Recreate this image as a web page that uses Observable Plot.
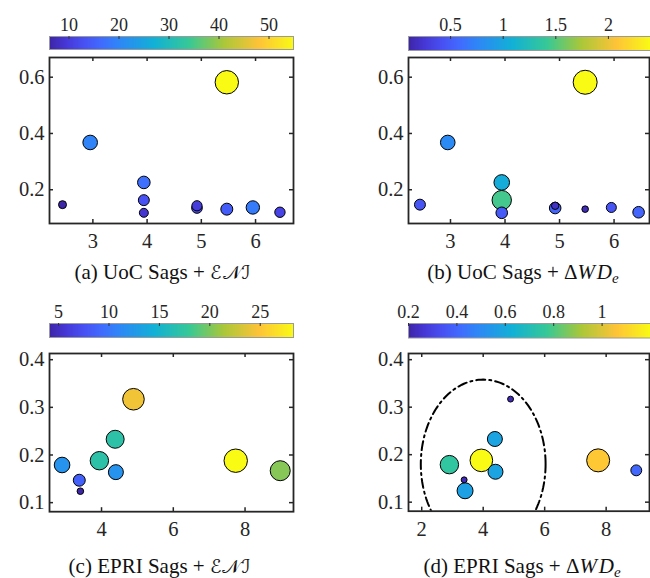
<!DOCTYPE html>
<html><head><meta charset="utf-8">
<script src="https://cdn.jsdelivr.net/npm/d3@7"></script>
<script src="https://cdn.jsdelivr.net/npm/@observablehq/plot@0.6"></script>
<style>
body{margin:0;background:#fff;}
#fig{position:relative;width:650px;height:578px;overflow:hidden;font-family:"Liberation Serif","Times New Roman",serif;color:#262626;background:#fff;}
#fig svg{position:absolute;}
.cap{position:absolute;font-size:21px;line-height:1;white-space:nowrap;transform:translate(-50%,-50%);color:#111;}
.cap i{font-style:italic;}
.cap sub{font-size:15px;vertical-align:-4px;line-height:0;}
.cal{font-family:"DejaVu Serif","DejaVu Sans",serif;font-size:19px;letter-spacing:1px;}
</style></head><body><div id="fig"></div>
<script>
// ---------- data ----------
const uocX = [2.44, 2.95, 3.94, 3.94, 3.94, 4.92, 4.92, 5.47, 5.95, 6.45, 5.47];
const uocY = [0.147, 0.368, 0.226, 0.163, 0.118, 0.135, 0.143, 0.131, 0.137, 0.120, 0.582];
const uocEniColor = [6.1, 19.5, 17, 13, 9, 12, 10, 14.5, 18.5, 11, 54.9];
const uocEniSize  = [6.4, 21.4, 15.9, 12.1, 8.1, 11.3, 10.5, 14.4, 18, 10.8, 54.9];
const uocWdColor  = [0.45, 0.78, 1.05, 1.45, 0.48, 0.55, 0.2, 0.15, 0.45, 0.55, 2.4];
const uocWdSize   = [0.50, 0.89, 1.01, 1.57, 0.56, 0.56, 0.23, 0.18, 0.42, 0.56, 2.4];

const epriX = [2.90, 3.38, 3.41, 3.94, 4.38, 4.40, 4.89, 7.74, 8.98];
const epriY = [0.179, 0.147, 0.124, 0.188, 0.233, 0.164, 0.317, 0.188, 0.167];
const epriEniColor = [12, 8.5, 4.1, 17, 17, 12, 24.3, 28.3, 20.3];
const epriEniSize  = [12.6, 7.4, 2.25, 17.5, 16.7, 11.6, 24.1, 28.3, 20.7];
const epriWdColor  = [0.75, 0.22, 0.57, 1.2, 0.58, 0.58, 0.22, 1.07, 0.4];
const epriWdSize   = [0.77, 0.08, 0.58, 1.16, 0.51, 0.51, 0.08, 1.2, 0.27];

// tick labels
const uocXTicks = [3, 4, 5, 6];
const uocYTicks = [0.2, 0.4, 0.6];
const epriXTicksC = [4, 6, 8];
const epriXTicksD = [2, 4, 6, 8];
const epriYTicks = [0.1, 0.2, 0.3, 0.4];
const cbTicksA = [10, 20, 30, 40, 50];
const cbTicksB = [0.5, 1, 1.5, 2];
const cbTicksC = [5, 10, 15, 20, 25];
const cbTicksD = [0.2, 0.4, 0.6, 0.8, 1];

// ellipse annotation in panel (d): centre x, centre y, radius x, radius y
const ellipseD = [4.0, 0.18, 2.03, 0.178];

// ---------- parula colormap ----------
const parulaT = [0, 0.0706, 0.1429, 0.2118, 0.2857, 0.4286, 0.5714, 0.7143, 0.8571, 1];
const parulaC = ["#3e26a8","#4639d9","#4852f4","#416bfe","#2e87f7","#12b1d6","#37c897","#abc739","#fec338","#f9fb15"];
const parulaScale = d3.scaleLinear().domain(parulaT).range(parulaC).interpolate(d3.interpolateRgb).clamp(true);
const parula = (t) => parulaScale(t);

const fig = document.getElementById("fig");
const FONT = '"Liberation Serif","Times New Roman",serif';

function place(svg, left, top) {
  svg.style.left = left + "px";
  svg.style.top = top + "px";
  fig.appendChild(svg);
}

function panel(p) {
  // colorbar
  const cbH = p.cbB - p.cbT;
  const cbSvg = Plot.plot({
    width: p.w, height: cbH + 32,
    marginLeft: p.fl - p.x0, marginRight: p.x0 + p.w - p.cbR,
    marginTop: 30, marginBottom: 2,
    style: {background: "transparent", overflow: "visible", fontFamily: FONT, color: "#262626"},
    x: {domain: p.cd},
    y: {domain: [0, 1], axis: null},
    color: {type: "linear", domain: p.cd, interpolate: parula},
    marks: [
      Plot.raster({x1: p.cd[0], x2: p.cd[1], y1: 0, y2: 1, width: 300, height: 1,
        fill: (x, y) => x, imageRendering: "auto"}),
      Plot.frame({stroke: "#9a9a9a", strokeWidth: 1}),
      Plot.tickX(p.ct, {x: d => d, insetBottom: cbH - 3, stroke: "#333", strokeWidth: 1}),
      Plot.axisX({anchor: "top", ticks: p.ct, tickSize: 0, tickPadding: 6, fontSize: 18,
        label: null, tickFormat: d => String(d)})
    ]
  });
  place(cbSvg, p.x0, p.cbT - 30);

  // scatter
  const fh = p.pB - p.pT, fw = p.fr - p.fl;
  const rows = p.X.map((x, i) => ({x, y: p.Y[i], c: p.C[i], s: p.S[i]}));
  const marks = [
    Plot.tickX(p.xt, {x: d => d, insetTop: fh - 4, stroke: "#262626", strokeWidth: 1.5}),
    Plot.tickX(p.xt, {x: d => d, insetBottom: fh - 4, stroke: "#262626", strokeWidth: 1.5}),
    Plot.tickY(p.yt, {y: d => d, insetRight: fw - 4, stroke: "#262626", strokeWidth: 1.5}),
    Plot.tickY(p.yt, {y: d => d, insetLeft: fw - 4, stroke: "#262626", strokeWidth: 1.5}),
    Plot.axisX({ticks: p.xt, tickSize: 0, tickPadding: 10, fontSize: 20.5, label: null, tickFormat: d => String(d)}),
    Plot.axisY({ticks: p.yt, tickSize: 0, tickPadding: 5, fontSize: 20.5, label: null, tickFormat: d3.format(".1f")})
  ];
  if (p.ellipse) {
    const [cx, cy, rx, ry] = p.ellipse;
    const pts = d3.range(0, 361, 2).map(a => ({
      x: cx + rx * Math.cos(a * Math.PI / 180),
      y: cy + ry * Math.sin(a * Math.PI / 180)
    }));
    marks.push(Plot.line(pts, {x: "x", y: "y", stroke: "#000", strokeWidth: 2,
      strokeDasharray: "9,4,2,4", clip: true}));
  }
  marks.push(Plot.dot(rows, {x: "x", y: "y", r: "s", fill: "c", stroke: "#000", strokeWidth: 1}));
  marks.push(Plot.frame({stroke: "#262626", strokeWidth: 1.8}));

  const scSvg = Plot.plot({
    width: p.w, height: fh + 8 + 36,
    marginLeft: p.fl - p.x0, marginRight: p.x0 + p.w - p.fr,
    marginTop: 8, marginBottom: 36,
    style: {background: "transparent", overflow: "visible", fontFamily: FONT, color: "#262626"},
    x: {domain: p.xd},
    y: {domain: p.yd},
    r: {type: "sqrt", domain: [0, p.sMax], range: [0, p.rMax]},
    color: {type: "linear", domain: p.cd, interpolate: parula},
    marks
  });
  place(scSvg, p.x0, p.pT - 8);

  const cap = document.createElement("div");
  cap.className = "cap";
  cap.style.left = p.capX + "px";
  cap.style.top = p.capY + "px";
  cap.innerHTML = p.caption;
  fig.appendChild(cap);
}

const capENI = '<span class="cal">ℰ𝒩ℐ</span>';
const capWD = 'Δ<i>W</i>&#8202;<i>D</i><sub><i>e</i></sub>';

panel({x0: 0, w: 325, fl: 49, fr: 293, cbR: 293, cbT: 36, cbB: 49, pT: 57, pB: 223,
  X: uocX, Y: uocY, C: uocEniColor, S: uocEniSize, xd: [2.2, 6.7], yd: [0.08, 0.67],
  cd: [6.1, 54.9], ct: cbTicksA, xt: uocXTicks, yt: uocYTicks, sMax: 54.9, rMax: 11.7,
  capX: 163, capY: 272, caption: '(a) UoC Sags + ' + capENI});

panel({x0: 325, w: 325, fl: 408, fr: 649, cbR: 650, cbT: 36, cbB: 50, pT: 57, pB: 223,
  X: uocX, Y: uocY, C: uocWdColor, S: uocWdSize, xd: [2.23, 6.65], yd: [0.08, 0.67],
  cd: [0.1, 2.4], ct: cbTicksB, xt: uocXTicks, yt: uocYTicks, sMax: 2.4, rMax: 12,
  capX: 523, capY: 272, caption: '(b) UoC Sags + ' + capWD});

panel({x0: 0, w: 325, fl: 49, fr: 293, cbR: 293, cbT: 323, cbB: 337, pT: 352.5, pB: 510.7,
  X: epriX, Y: epriY, C: epriEniColor, S: epriEniSize, xd: [2.55, 9.35], yd: [0.081, 0.413],
  cd: [4.1, 28.3], ct: cbTicksC, xt: epriXTicksC, yt: epriYTicks, sMax: 28.3, rMax: 11.7,
  capX: 160, capY: 566, caption: '(c) EPRI Sags + ' + capENI});

panel({x0: 325, w: 325, fl: 408, fr: 649, cbR: 650, cbT: 323, cbB: 337.5, pT: 353, pB: 510.7,
  X: epriX, Y: epriY, C: epriWdColor, S: epriWdSize, xd: [1.57, 9.41], yd: [0.081, 0.413],
  cd: [0.2, 1.2], ct: cbTicksD, xt: epriXTicksD, yt: epriYTicks, sMax: 1.2, rMax: 11.5,
  ellipse: ellipseD,
  capX: 522, capY: 566, caption: '(d) EPRI Sags + ' + capWD});
</script>
</body></html>
